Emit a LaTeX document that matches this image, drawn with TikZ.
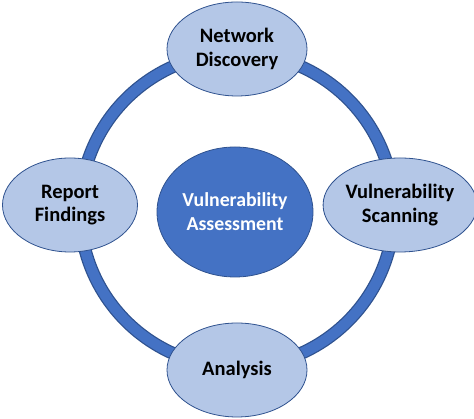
\documentclass[tikz,border=0pt]{standalone}
\usepackage{fontspec}
\setmainfont{Carlito}
\usetikzlibrary{shapes.geometric}
\definecolor{ringblue}{HTML}{4472C4}
\definecolor{edgeblue}{HTML}{2F528F}
\definecolor{paleblue}{HTML}{B4C7E7}

\begin{document}
\begin{tikzpicture}[x=1pt,y=1pt,
    stage/.style={ellipse, draw=edgeblue, line width=0.8pt, fill=paleblue,
      minimum width=140pt, minimum height=94pt, inner sep=0pt,
      align=center, font=\fontsize{20.5}{23.5}\selectfont\bfseries, text=black},
    core/.style={ellipse, draw=edgeblue, line width=0.8pt, fill=ringblue,
      minimum width=156pt, minimum height=130pt, inner sep=0pt,
      align=center, font=\fontsize{19.8}{24}\selectfont\bfseries, text=white}]
  \useasboundingbox (0,0) rectangle (474,419);
  % ring behind the stages
  \draw [edgeblue, line width=13pt] (237,209) circle [radius=157];
  \draw [ringblue, line width=10.5pt] (237,209) circle [radius=157];
  \node (core) at (235,207) [core] {Vulnerability\\Assessment};
  \node (disc) at (237,370) [stage] {Network\\Discovery};
  \node (scan) at (400,214) [stage, minimum width=132pt] {Vulnerability\\Scanning};
  \node (anal) at (237,49) [stage] {Analysis};
  \node (report) at (70,214) [stage, minimum width=135pt] {Report\\Findings};
\end{tikzpicture}
\end{document}
